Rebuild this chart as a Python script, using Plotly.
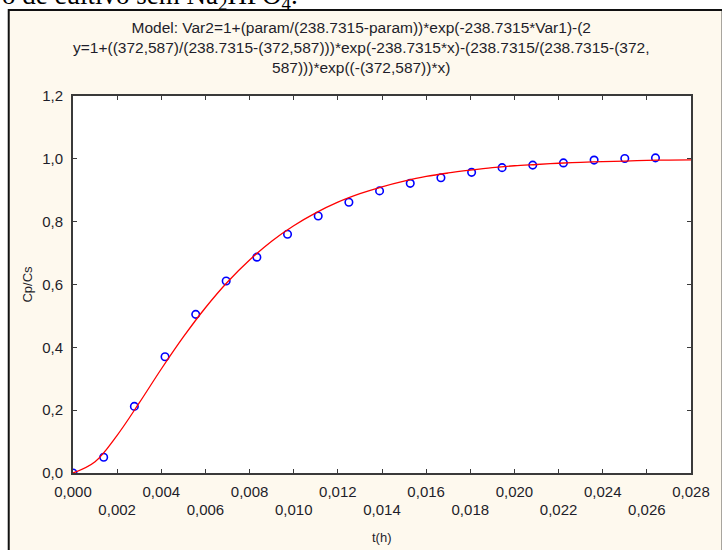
import plotly.graph_objects as go

t_obs = [0.0, 0.00139, 0.00278, 0.00417, 0.00556, 0.00694, 0.00833, 0.00972, 0.01111, 0.0125,
         0.01389, 0.01528, 0.01667, 0.01806, 0.01944, 0.02083, 0.02222, 0.02361, 0.025, 0.02639]
cp_obs = [0.0, 0.050, 0.212, 0.370, 0.505, 0.611, 0.687, 0.760, 0.818, 0.862,
          0.898, 0.922, 0.940, 0.957, 0.972, 0.980, 0.987, 0.996, 1.001, 1.003]

# Fitted model curve
t_fit = [0.000, 0.001, 0.002, 0.003, 0.004, 0.005, 0.006, 0.007, 0.008, 0.009,
         0.010, 0.011, 0.012, 0.013, 0.014, 0.015, 0.016, 0.017, 0.018, 0.019,
         0.020, 0.021, 0.022, 0.023, 0.024, 0.025, 0.026, 0.027, 0.028]
cp_fit = [0.000, 0.036, 0.120, 0.223, 0.331, 0.433, 0.526, 0.608, 0.678, 0.738,
          0.787, 0.828, 0.862, 0.889, 0.911, 0.929, 0.944, 0.955, 0.964, 0.972,
          0.978, 0.982, 0.986, 0.989, 0.991, 0.993, 0.995, 0.996, 0.997]

# Tick labels
x_ticks_row1 = [0.000, 0.004, 0.008, 0.012, 0.016, 0.020, 0.024, 0.028]
x_labels_row1 = ["0,000", "0,004", "0,008", "0,012", "0,016", "0,020", "0,024", "0,028"]
x_ticks_row2 = [0.002, 0.006, 0.010, 0.014, 0.018, 0.022, 0.026]
x_labels_row2 = ["0,002", "0,006", "0,010", "0,014", "0,018", "0,022", "0,026"]
y_ticks = [0.0, 0.2, 0.4, 0.6, 0.8, 1.0, 1.2]
y_labels = ["0,0", "0,2", "0,4", "0,6", "0,8", "1,0", "1,2"]

title_lines = [
    "Model: Var2=1+(param/(238.7315-param))*exp(-238.7315*Var1)-(2",
    "y=1+((372,587)/(238.7315-(372,587)))*exp(-238.7315*x)-(238.7315/(238.7315-(372,",
    "587)))*exp((-(372,587))*x)",
]

W, H = 722, 550
L, R, T, B = 73, 698, 96, 473
pw, ph = R - L, B - T


def px(xp):
    return (xp - L) / pw


def py(yp):
    return (B - yp) / ph


FONT = "Liberation Sans, Arial, sans-serif"
TXT = "#1e1e2a"
AX = "#3a3a3a"
CREAM = "#FEF9EE"

fig = go.Figure()
# fitted curve drawn against the second (overlaying) x-axis, which shares the same range
fig.add_trace(go.Scatter(x=t_fit, y=cp_fit, xaxis="x2", yaxis="y", mode="lines",
                         line=dict(color="#FF0000", width=1.3, shape="spline"),
                         showlegend=False, hoverinfo="skip"))
fig.add_trace(go.Scatter(x=t_obs, y=cp_obs, mode="markers",
                         marker=dict(symbol="circle-open", size=7.5, color="#0000FF",
                                     line=dict(width=1.6, color="#0000FF")),
                         showlegend=False))

fig.update_layout(
    width=W, height=H, autosize=False,
    margin=dict(l=L, r=W - R, t=T, b=H - B, pad=0),
    paper_bgcolor="white", plot_bgcolor="white",
    font=dict(family=FONT, size=15, color=TXT),
    xaxis=dict(range=[0, 0.028], tickvals=x_ticks_row1 + x_ticks_row2,
               ticktext=x_labels_row1 + [""] * len(x_ticks_row2),
               ticks="inside", ticklen=4, tickwidth=1.2, tickcolor=AX,
               showline=True, linecolor=AX, linewidth=2, mirror="ticks",
               showgrid=False, zeroline=False, ticklabelstandoff=4,
               tickfont=dict(size=15, color=TXT)),
    xaxis2=dict(range=[0, 0.028], overlaying="x", anchor="y", side="bottom",
                tickvals=x_ticks_row2, ticktext=x_labels_row2, ticks="",
                showline=False, showgrid=False, zeroline=False, ticklabelstandoff=26,
                tickfont=dict(size=15, color=TXT)),
    yaxis=dict(range=[0, 1.2], tickvals=y_ticks, ticktext=y_labels,
               ticks="inside", ticklen=4, tickwidth=1.2, tickcolor=AX,
               showline=True, linecolor=AX, linewidth=2, mirror="ticks",
               showgrid=False, zeroline=False, ticklabelstandoff=5,
               tickfont=dict(size=15, color=TXT)),
    shapes=[
        dict(type="rect", xref="paper", yref="paper", x0=px(8), x1=px(730), y0=py(560), y1=py(10),
             fillcolor=CREAM, line=dict(color="#111111", width=2), layer="below"),
        dict(type="rect", xref="paper", yref="paper", x0=0, x1=1, y0=0, y1=1,
             fillcolor="white", line=dict(width=0), layer="below"),
    ],
    annotations=[
        dict(text="<br>".join(title_lines), xref="paper", yref="paper", x=px(364), y=py(48),
             xanchor="center", yanchor="middle", showarrow=False, align="center",
             font=dict(family=FONT, size=15.5, color=TXT)),
        dict(text="t(h)", xref="paper", yref="paper", x=px(386), y=py(537),
             xanchor="center", yanchor="middle", showarrow=False,
             font=dict(family=FONT, size=13, color=TXT)),
        dict(text="Cp/Cs", xref="paper", yref="paper", x=px(26), y=py(284), textangle=-90,
             xanchor="center", yanchor="middle", showarrow=False,
             font=dict(family=FONT, size=13, color=TXT)),
        dict(text="o de cultivo sem Na<sub>2</sub>HPO<sub>4</sub>.", xref="paper", yref="paper",
             x=px(-1), y=py(16), xanchor="left", yanchor="bottom", showarrow=False,
             font=dict(family="Liberation Serif, Times New Roman, serif", size=27, color="black")),
    ],
)

fig.write_html("out.html")
